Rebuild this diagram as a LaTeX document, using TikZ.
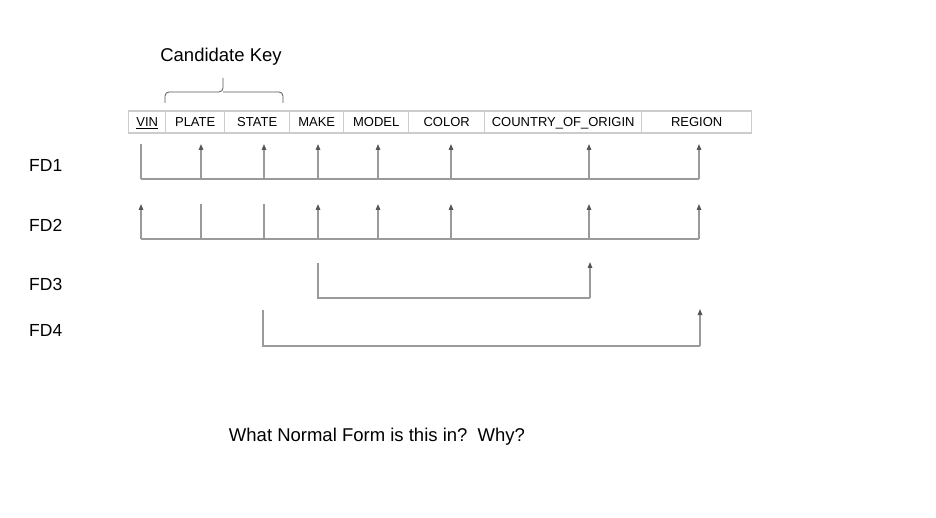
\documentclass[tikz,border=0pt]{standalone}
\usepackage{fontspec}
\setmainfont{Liberation Sans}
\usetikzlibrary{arrows.meta}
\definecolor{cellline}{HTML}{CCCCCC}
\definecolor{fdline}{HTML}{9A9A9A}
\definecolor{tipcol}{HTML}{555555}
\tikzset{
  cell/.style={draw=cellline, line width=1.4pt, minimum height=22pt, inner sep=0pt, text height=9.3pt, text depth=0pt, anchor=west, font=\fontsize{13}{15}\selectfont},
  lbl/.style={anchor=west, inner sep=0pt, font=\fontsize{17.5}{20}\selectfont},
  title/.style={inner sep=0pt, font=\fontsize{18.5}{22}\selectfont},
  fd/.style={draw=fdline, line width=1.3pt},
  fdarrow/.style={fd, -{Triangle[length=6pt, width=4.5pt, color=tipcol]}},
}
\begin{document}
\begin{tikzpicture}[x=1pt,y=-1pt]
\useasboundingbox (0,0) rectangle (936,518);
% table
\node[cell, minimum width=37pt] (vin) at (128,122) {\underline{VIN}};
\node[cell, minimum width=59pt] (plate) at (165,122) {PLATE};
\node[cell, minimum width=65pt] (state) at (224,122) {STATE};
\node[cell, minimum width=54pt] (make) at (289,122) {MAKE};
\node[cell, minimum width=65pt] (model) at (343,122) {MODEL};
\node[cell, minimum width=76pt] (color) at (408,122) {COLOR};
\node[cell, minimum width=157pt] (country) at (484,122) {COUNTRY\_OF\_ORIGIN};
\node[cell, minimum width=110pt] (region) at (641,122) {REGION};
% candidate key
\node[title] (ck) at (221,57) {Candidate Key};
\coordinate (bl) at (165,103);
\coordinate (br) at (283,103);
\coordinate (bt) at (223,78);
\draw[tipcol, line width=0.8pt, rounded corners=4pt] (bl) -- (165,92) -- (223,92) -- (bt);
\draw[tipcol, line width=0.8pt, rounded corners=4pt] (br) -- (283,92) -- (223,92);
% FD labels
\node[lbl] (fd1) at (29,165) {FD1};
\node[lbl] (fd2) at (29,225) {FD2};
\node[lbl] (fd3) at (29,284) {FD3};
\node[lbl] (fd4) at (29,330) {FD4};
% coordinates
\foreach \n/\x in {vin/141,plate/201,state/264,make/318,model/378,color/451,country/589,region/699}{
  \coordinate (a1\n) at (\x,179); \coordinate (t1\n) at (\x,144);
  \coordinate (a2\n) at (\x,239); \coordinate (t2\n) at (\x,204);
}
\coordinate (a3make) at (318,298); \coordinate (t3make) at (318,263);
\coordinate (a3country) at (590,298); \coordinate (t3country) at (590,262);
\coordinate (a4state) at (263,346); \coordinate (t4state) at (263,310);
\coordinate (a4region) at (700,346); \coordinate (t4region) at (700,309);
% FD1
\draw[fd] (a1vin) -- (a1region);
\draw[fd] (a1vin) -- (t1vin);
\foreach \n in {plate,state,make,model,color,country,region}{\draw[fdarrow] (a1\n) -- (t1\n);}
% FD2
\draw[fd] (a2vin) -- (a2region);
\draw[fdarrow] (a2vin) -- (t2vin);
\foreach \n in {plate,state}{\draw[fd] (a2\n) -- (t2\n);}
\foreach \n in {make,model,color,country,region}{\draw[fdarrow] (a2\n) -- (t2\n);}
% FD3
\draw[fd] (t3make) -- (a3make) -- (a3country);
\draw[fdarrow] (a3country) -- (t3country);
% FD4
\draw[fd] (t4state) -- (a4state) -- (a4region);
\draw[fdarrow] (a4region) -- (t4region);
% question
\node[title] (q) at (377,437) {What Normal Form is this in?\ \ Why?};
\end{tikzpicture}
\end{document}
